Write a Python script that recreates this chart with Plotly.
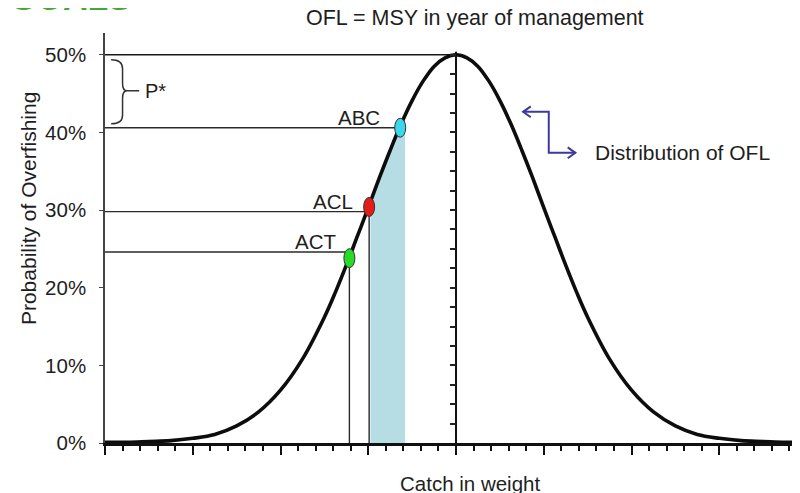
import plotly.graph_objects as go

# ---------------- data ----------------
# Distribution of OFL: catch (in sigma units, 0 = OFL = MSY) vs probability (%)
curve_x = [-4.0, -3.75, -3.5, -3.25, -3.0, -2.75, -2.5, -2.25, -2.0, -1.75, -1.5,
           -1.375, -1.25, -1.125, -1.0, -0.875, -0.75, -0.625, -0.5, -0.375, -0.25,
           -0.125, 0.0, 0.125, 0.25, 0.375, 0.5, 0.625, 0.75, 0.875, 1.0, 1.125,
           1.25, 1.375, 1.5, 1.75, 2.0, 2.25, 2.5, 2.75, 3.0, 3.25, 3.5, 3.75, 3.92]
curve_y = [0.1, 0.1, 0.2, 0.3, 0.6, 1.1, 2.2, 4.0, 6.8, 10.8, 16.2,
           19.4, 22.9, 26.6, 30.3, 34.1, 37.7, 41.1, 44.1, 46.6, 48.5,
           49.6, 50.0, 49.6, 48.5, 46.6, 44.1, 41.1, 37.7, 34.1, 30.3, 26.6,
           22.9, 19.4, 16.2, 10.8, 6.8, 4.0, 2.2, 1.1, 0.6, 0.3, 0.2, 0.1, 0.1]

# shaded buffer between ACL and ABC (area under the curve)
shade_x = [-0.975, -0.9, -0.8, -0.7, -0.58]
shade_y = [30.9, 33.3, 36.3, 39.1, 42.2]

# reference points on the curve
point_labels = ["ABC", "ACL", "ACT"]
point_x = [-0.636, -0.99, -1.215]
point_y = [40.6, 30.4, 23.8]
level_y = [40.6, 29.8, 24.6]          # P* levels drawn from the y-axis
drop_labels = ["ACL", "ACT"]          # points with a drop line to the x-axis

y_ticks = [0, 10, 20, 30, 40, 50]

# ---------------- styling ----------------
FONT = "Liberation Sans, Arial, sans-serif"
TXT = "#1e1e1e"
point_colors = {"ABC": "#3ad8ea", "ACL": "#e41b17", "ACT": "#27dc27"}
label_shift = {"ABC": -18, "ACL": -14, "ACT": -11}
X_MIN, X_MAX = -4.0, 3.92
Y_MAX = 52.8

fig = go.Figure()

# shaded area
fig.add_trace(go.Scatter(x=shade_x, y=shade_y, mode="lines", fill="tozeroy",
                         fillcolor="#b6dde3", line=dict(width=0),
                         hoverinfo="skip", showlegend=False))

# horizontal level lines from the y-axis to each point
for lab, px, lv in zip(point_labels, point_x, level_y):
    fig.add_trace(go.Scatter(x=[X_MIN, px], y=[lv, lv], mode="lines",
                             line=dict(color="#2a2a2a", width=1.4),
                             hoverinfo="skip", showlegend=False))

# drop lines to the x-axis
for lab, px, py in zip(point_labels, point_x, point_y):
    if lab in drop_labels:
        fig.add_trace(go.Scatter(x=[px, px], y=[0, py], mode="lines",
                                 line=dict(color="#2a2a2a", width=1.4),
                                 hoverinfo="skip", showlegend=False))

# peak line (OFL = MSY) and center vertical line
peak_i = curve_y.index(max(curve_y))
peak_x, peak_y = curve_x[peak_i], curve_y[peak_i]
fig.add_trace(go.Scatter(x=[X_MIN, peak_x], y=[peak_y, peak_y], mode="lines",
                         line=dict(color="#1a1a1a", width=1.4),
                         hoverinfo="skip", showlegend=False))
fig.add_trace(go.Scatter(x=[peak_x, peak_x], y=[0, peak_y + 0.4], mode="lines",
                         line=dict(color="#111", width=2),
                         hoverinfo="skip", showlegend=False))

# the distribution curve
fig.add_trace(go.Scatter(x=curve_x, y=curve_y, mode="lines",
                         line=dict(color="#0d0d0d", width=3.6, shape="spline", smoothing=1.0),
                         hoverinfo="skip", showlegend=False))

# invisible trace to carry the center tick axis
fig.add_trace(go.Scatter(x=[peak_x], y=[0], yaxis="y2", mode="markers",
                         marker=dict(opacity=0), hoverinfo="skip", showlegend=False))

shapes = []
# elliptical point markers
for lab, px, py in zip(point_labels, point_x, point_y):
    shapes.append(dict(type="circle", xref="x", yref="y",
                       xsizemode="pixel", ysizemode="pixel",
                       xanchor=px, yanchor=py, x0=-5.5, x1=5.5, y0=-9.5, y1=9.5,
                       fillcolor=point_colors[lab], line=dict(color="#333", width=1),
                       layer="above"))

# elbow arrow next to "Distribution of OFL"
ARROW = "#3a3a9c"
shapes.append(dict(type="path", xref="x", yref="y",
                   path="M 0.761,42.65 L 1.057,42.65 L 1.057,37.37 L 1.364,37.37",
                   line=dict(color=ARROW, width=2)))
shapes.append(dict(type="path", xref="x", yref="y",
                   path="M 0.852,43.35 L 0.765,42.65 L 0.852,41.95",
                   line=dict(color=ARROW, width=2)))
shapes.append(dict(type="path", xref="x", yref="y",
                   path="M 1.273,38.07 L 1.360,37.37 L 1.273,36.67",
                   line=dict(color=ARROW, width=2)))

# P* brace
shapes.append(dict(type="path", xref="x", yref="y",
                   path=("M -3.93,49.36 Q -3.80,49.36 -3.80,48.2 L -3.80,46.3 "
                         "Q -3.80,45.36 -3.75,45.36 L -3.61,45.36 "
                         "M -3.75,45.36 Q -3.80,45.36 -3.80,44.4 L -3.80,42.2 "
                         "Q -3.80,41.1 -3.93,41.1"),
                   line=dict(color="#333", width=1.5)))

annotations = []
for lab, px, lv in zip(point_labels, point_x, level_y):
    annotations.append(dict(x=px, y=lv, xref="x", yref="y", text=lab,
                            showarrow=False, xanchor="right", yanchor="middle",
                            xshift=label_shift[lab], yshift=10,
                            font=dict(family=FONT, size=20.5, color=TXT)))

annotations += [
    dict(x=-3.568, y=45.36, xref="x", yref="y", text="P*", showarrow=False,
         xanchor="left", yanchor="middle", font=dict(family=FONT, size=20, color=TXT)),
    dict(x=1.557, y=37.37, xref="x", yref="y", text="Distribution of OFL",
         showarrow=False, xanchor="left", yanchor="middle",
         font=dict(family=FONT, size=21, color=TXT)),
    dict(x=0.532, y=1.0366, xref="paper", yref="paper",
         text="OFL = MSY in year of management", showarrow=False,
         xanchor="center", yanchor="middle", font=dict(family=FONT, size=21.5, color=TXT)),
    dict(x=0.525, y=-0.0976, xref="paper", yref="paper", text="Catch in weight",
         showarrow=False, xanchor="center", yanchor="middle",
         font=dict(family=FONT, size=20.5, color=TXT)),
    dict(x=-0.1108, y=0.573, xref="paper", yref="paper",
         text="Probability of Overfishing", textangle=-90, showarrow=False,
         xanchor="center", yanchor="middle", font=dict(family=FONT, size=21, color=TXT)),
    dict(x=-0.14, y=1.085, xref="paper", yref="paper", text="<b>GOALS</b>",
         showarrow=False, xanchor="left", yanchor="middle",
         font=dict(family=FONT, size=34, color="#45a834")),
]

# the page places the figure 8px from the top-left corner of the window,
# so the margins are reduced by 8px to land the plot area where the reference has it
fig.update_layout(
    width=800, height=493, autosize=False,
    margin=dict(l=97, r=8, t=25, b=58),
    paper_bgcolor="white", plot_bgcolor="white",
    showlegend=False,
    shapes=shapes, annotations=annotations,
    xaxis=dict(range=[X_MIN, X_MAX], showgrid=False, zeroline=False,
               showline=True, linecolor="#111", linewidth=2.5,
               ticks="outside", tickmode="linear", tick0=0, dtick=1,
               ticklen=9, tickwidth=2, tickcolor="#111", showticklabels=False,
               minor=dict(ticks="outside", tick0=0, dtick=0.2, ticklen=5,
                          tickwidth=1.5, tickcolor="#111")),
    yaxis=dict(range=[0, Y_MAX], showgrid=False, zeroline=False,
               showline=True, linecolor="#444", linewidth=1.5,
               ticks="outside", ticklen=4, tickcolor="#444",
               tickmode="array", tickvals=y_ticks,
               ticktext=[f"{v}%" for v in y_ticks],
               tickfont=dict(family=FONT, size=20.5, color=TXT),
               ticklabelstandoff=9),
    yaxis2=dict(range=[0, Y_MAX], overlaying="y", anchor="free",
                position=(peak_x - X_MIN) / (X_MAX - X_MIN), side="left",
                showgrid=False, zeroline=False, showline=False,
                ticks="outside", tickmode="array",
                tickvals=[v * 2.5 for v in range(1, int(peak_y / 2.5) + 1)],
                ticklen=6, tickwidth=1.5, tickcolor="#222",
                showticklabels=False),
)

fig.write_html("out.html")
